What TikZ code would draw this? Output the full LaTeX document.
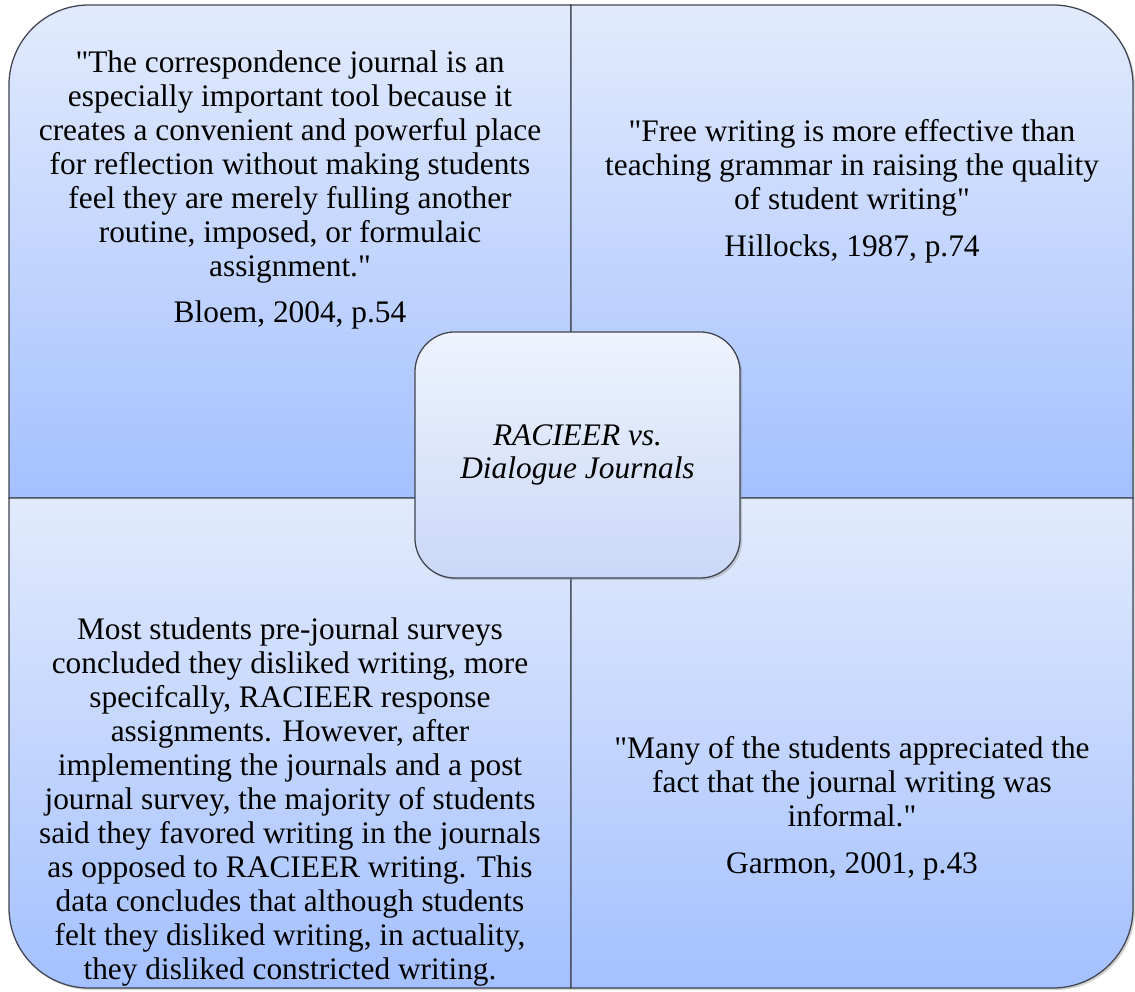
\documentclass[tikz,border=0pt]{standalone}
\usepackage{fontspec}
\setmainfont{Liberation Serif}[Ligatures=TeXOff]
\usetikzlibrary{shadows}
\definecolor{quadtop}{HTML}{E2EBFD}
\definecolor{quadbot}{HTML}{A4C0FE}
\definecolor{hubtop}{HTML}{EEF3FD}
\definecolor{hubbot}{HTML}{CAD8F8}
\definecolor{edgegray}{HTML}{3F4450}

\begin{document}
\begin{tikzpicture}[x=0.025cm,y=0.025cm,
    quad/.style={draw=edgegray,line width=0.9pt,top color=quadtop,bottom color=quadbot,
      drop shadow={shadow xshift=1.5pt,shadow yshift=-1.5pt,opacity=0.35}},
    hub/.style={draw=edgegray,line width=0.9pt,rounded corners=1cm,top color=hubtop,bottom color=hubbot,
      minimum width=8.125cm,minimum height=6.15cm,
      drop shadow={shadow xshift=1.5pt,shadow yshift=-1.5pt,opacity=0.35}},
    quote/.style={align=center,font=\fontsize{22.3}{24.2}\selectfont,inner sep=0pt}]
   \useasboundingbox (0,0) rectangle (1135,991);
   % four quadrants
   \path[quad] (9,493) -- (9,906) arc[start angle=180,end angle=90,radius=80] -- (571,986) -- (571,493) -- cycle;
   \path[quad] (571,493) -- (571,986) -- (1053,986) arc[start angle=90,end angle=0,radius=80] -- (1133,493) -- cycle;
   \path[quad] (9,493) -- (571,493) -- (571,3) -- (89,3) arc[start angle=270,end angle=180,radius=80] -- cycle;
   \path[quad] (571,493) -- (1133,493) -- (1133,83) arc[start angle=0,end angle=-90,radius=80] -- (571,3) -- cycle;
   % centre
   \node[hub,quote,font=\fontsize{22.3}{23}\selectfont\itshape] (hub) at (577.5,536) {RACIEER vs.\\Dialogue Journals};
   \begin{scope}[every node/.style={quote}]
    \node (bloem) at (290,801) {"The correspondence journal is an\\especially important tool because it\\creates a convenient and powerful place\\for reflection without making students\\feel they are merely fulling another\\routine, imposed, or formulaic\\assignment."\\[9pt]Bloem, 2004, p.54};
    \node (hillocks) at (852,800) {"Free writing is more effective than\\teaching grammar in raising the quality\\of student writing"\\[9pt]Hillocks, 1987, p.74};
    \node (survey) at (290,189) {Most students pre-journal surveys\\concluded they disliked writing, more\\specifcally, RACIEER response\\assignments. However, after\\implementing the journals and a post\\journal survey, the majority of students\\said they favored writing in the journals\\as opposed to RACIEER writing. This\\data concludes that although students\\felt they disliked writing, in actuality,\\they disliked constricted writing.};
    \node (garmon) at (852,183) {"Many of the students appreciated the\\fact that the journal writing was\\informal."\\[9pt]Garmon, 2001, p.43};
   \end{scope}
\end{tikzpicture}
\end{document}
